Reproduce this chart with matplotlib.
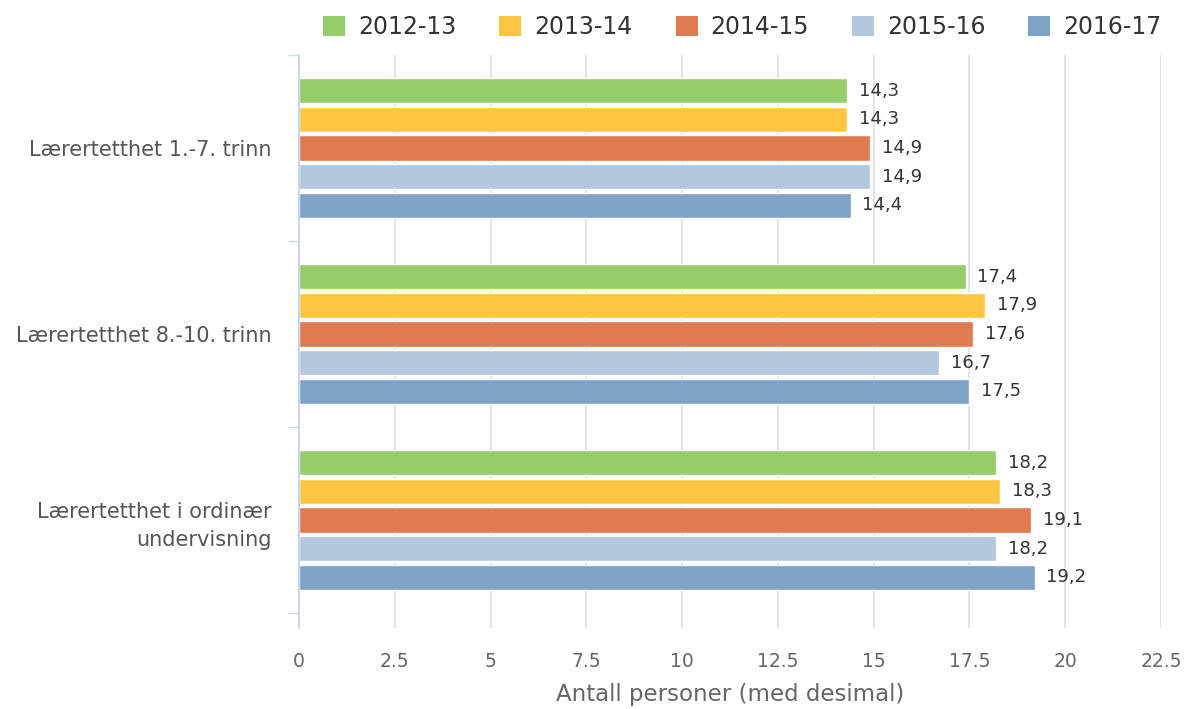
import matplotlib
matplotlib.use("Agg")
import matplotlib.pyplot as plt
from matplotlib.patches import Patch
import numpy as np

categories = ["Lærertetthet 1.-7. trinn", "Lærertetthet 8.-10. trinn", "Lærertetthet i ordinær\nundervisning"]
series_names = ["2012-13", "2013-14", "2014-15", "2015-16", "2016-17"]
values = {
    "2012-13": [14.3, 17.4, 18.2],
    "2013-14": [14.3, 17.9, 18.3],
    "2014-15": [14.9, 17.6, 19.1],
    "2015-16": [14.9, 16.7, 18.2],
    "2016-17": [14.4, 17.5, 19.2],
}
colors = ["#95CE68", "#FEC640", "#DF7B4F", "#B3C7DD", "#7FA3C7"]
xticks = [0, 2.5, 5, 7.5, 10, 12.5, 15, 17.5, 20, 22.5]
xtick_labels = ["0", "2.5", "5", "7.5", "10", "12.5", "15", "17.5", "20", "22.5"]
xlabel = "Antall personer (med desimal)"

plt.rcParams['font.family'] = ['DejaVu Sans']
fig = plt.figure(figsize=(11.84, 7.09), dpi=100)
ax = fig.add_axes([299/1184, 1-628/709, (1161-299)/1184, (628-55)/709])

n = len(series_names)
pitch = 0.154
bh = 0.135
y = np.arange(len(categories))
for i, name in enumerate(series_names):
    off = (i - (n-1)/2) * pitch
    vals = values[name]
    ax.barh(y + off, vals, height=bh, color=colors[i], edgecolor="white", linewidth=1, zorder=3)
    for yy, v in zip(y + off, vals):
        ax.annotate(f"{v:.1f}".replace(".", ","), xy=(v, yy), xytext=(8.5, 0), textcoords="offset points",
                    va="center", ha="left", fontsize=13, color="#333333", zorder=4)

ax.set_xlim(0, 22.5)
ax.set_ylim(-0.5 + 573/186, -0.5)
ax.set_xticks(xticks)
ax.set_xticklabels(xtick_labels, fontsize=13.5, color="#666666")
ax.tick_params(axis="x", length=0, pad=17)
ax.set_yticks(y)
ax.set_yticklabels(categories, fontsize=15, color="#555555", linespacing=1.5)
ax.tick_params(axis="y", which="major", length=0, pad=19.5)
ax.set_yticks([-0.5, 0.5, 1.5, 2.5], minor=True)
ax.tick_params(axis="y", which="minor", length=8, width=1, color="#CCD6EB", direction="out")
ax.grid(axis="x", color="#E2E2E2", linewidth=1.3, zorder=0)
ax.set_axisbelow(True)
for s in ["top", "right", "bottom"]:
    ax.spines[s].set_visible(False)
ax.spines["left"].set_color("#CCD6EB")
ax.spines["left"].set_linewidth(1.5)
ax.spines["left"].set_zorder(5)
ax.set_xlabel(xlabel, fontsize=16.5, color="#666666", labelpad=9)

handles = [Patch(facecolor=c, edgecolor="none") for c in colors]
fig.legend(handles, series_names, loc="center", bbox_to_anchor=(742.5/1184, 1-27/709), ncol=5,
           frameon=False, fontsize=17, handlelength=0.93, handleheight=0.93, handletextpad=0.55,
           columnspacing=1.82, labelcolor="#333333", borderpad=0, borderaxespad=0)

fig.savefig("out.png", dpi=100)
